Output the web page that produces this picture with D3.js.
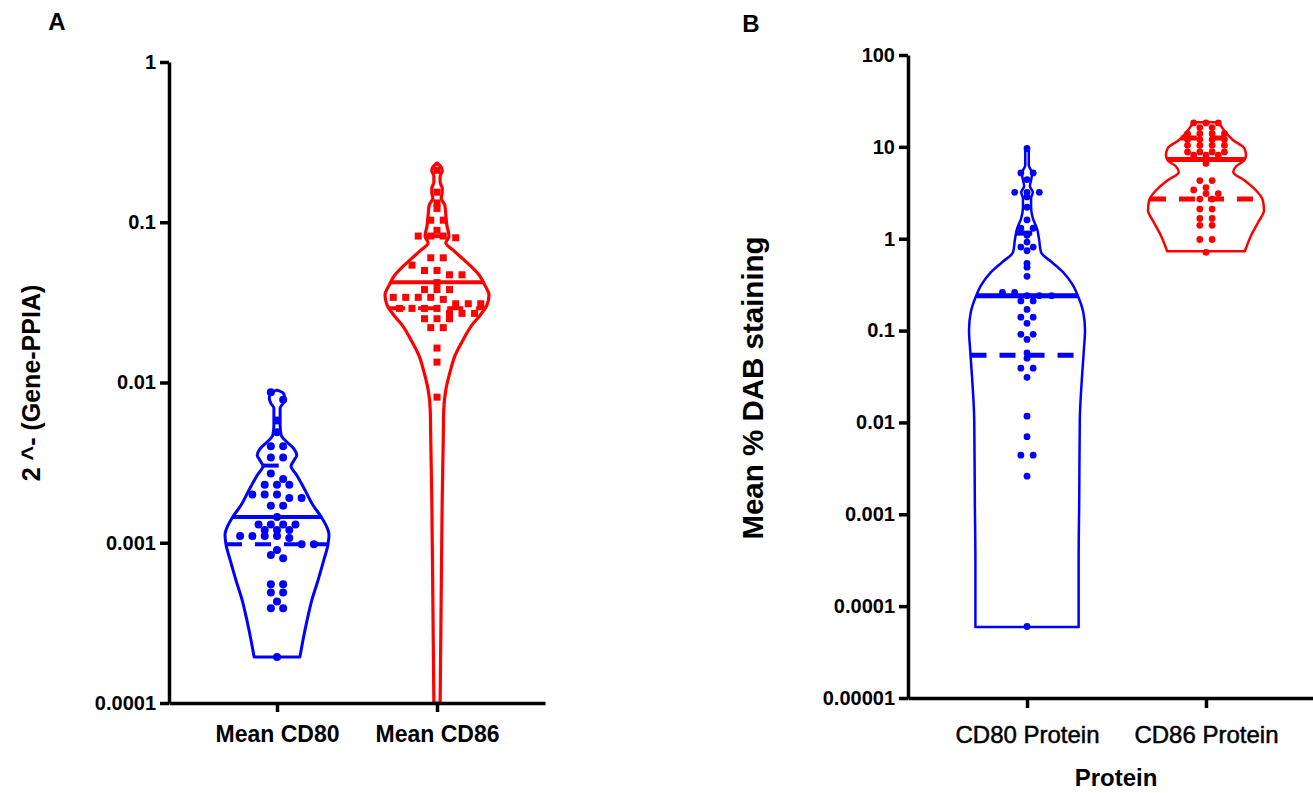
<!DOCTYPE html>
<html>
<head>
<meta charset="utf-8">
<title>CD80 / CD86 violin plots</title>
<script src="https://d3js.org/d3.v7.min.js"></script>
<style>
  body { margin: 0; background: #fff; }
  text { font-family: "Liberation Sans", Arial, sans-serif; font-weight: bold; fill: #000; }
  .axis path, .axis line { stroke: #000; stroke-width: 3.5; }
</style>
</head>
<body>
<svg width="1313" height="793"></svg>

<script>
// ---------- panel A : 2^-(Gene-PPIA) ----------
var geneCats = ['Mean CD80', 'Mean CD86'];
var geneTicks = [0.0001, 0.001, 0.01, 0.1, 1];

var cd80Gene = [0.0087, 0.0078, 0.0058, 0.0049, 0.0040, 0.0040, 0.0034, 0.0034, 0.0027, 0.0025,
  0.0023, 0.0023, 0.0023, 0.0020, 0.0020, 0.0020, 0.0019, 0.0019, 0.0017, 0.0017,
  0.00145, 0.0013, 0.0013, 0.0013, 0.0013, 0.0012, 0.0012, 0.0012, 0.0011, 0.0011,
  0.0011, 0.0011, 0.00107, 0.00098, 0.00098, 0.0009, 0.00084, 0.0008, 0.00055, 0.00055,
  0.00049, 0.00049, 0.00043, 0.00039, 0.00039, 0.000194];
var cd86Gene = [0.211, 0.154, 0.132, 0.122, 0.103, 0.103, 0.089, 0.082, 0.082, 0.082,
  0.080, 0.060, 0.060, 0.054, 0.050, 0.050, 0.047, 0.047, 0.042, 0.038,
  0.038, 0.038, 0.034, 0.034, 0.034, 0.034, 0.033, 0.031, 0.031, 0.031,
  0.029, 0.029, 0.029, 0.029, 0.027, 0.027, 0.027, 0.025, 0.025, 0.025,
  0.022, 0.022, 0.0164, 0.0134, 0.0081];

// [median, lower quartile, upper quartile]
var cd80GeneStats = [0.00145, 0.00098, 0.00303];
var cd86GeneStats = [0.0423, 0.0291, 0.0819];

// violin outline: [value, relative density]
var cd80GeneViolin = [[0.00897, 0], [0.00859, 0.12], [0.00799, 0.15], [0.00744, 0.12], [0.00692, 0.06],
  [0.00626, 0.06], [0.00542, 0.06], [0.0047, 0.08], [0.00425, 0.19], [0.00384, 0.33],
  [0.00352, 0.38], [0.00328, 0.33], [0.00301, 0.27], [0.00264, 0.38], [0.00213, 0.54],
  [0.00172, 0.69], [0.00145, 0.85], [0.00129, 0.94], [0.00112, 1], [0.00097, 0.98],
  [0.00078, 0.9], [0.000585, 0.79], [0.000439, 0.67], [0.00033, 0.58], [0.000247, 0.5],
  [0.000194, 0.44]];
var cd86GeneViolin = [[0.234, 0], [0.221, 0.08], [0.209, 0.1], [0.194, 0.06], [0.178, 0.06],
  [0.163, 0.1], [0.152, 0.1], [0.141, 0.08], [0.128, 0.15], [0.111, 0.17],
  [0.0959, 0.19], [0.0819, 0.23], [0.0741, 0.17], [0.067, 0.31], [0.0597, 0.48],
  [0.0532, 0.65], [0.0468, 0.81], [0.0405, 0.92], [0.0351, 1], [0.0304, 0.96],
  [0.0263, 0.83], [0.0228, 0.67], [0.0184, 0.5], [0.0148, 0.35], [0.0116, 0.25],
  [0.009, 0.17], [0.00673, 0.13], [0.00437, 0.12], [0.00185, 0.1], [0.00044, 0.08],
  [0.0001, 0.06]];

// ---------- panel B : Mean % DAB staining ----------
var proteinCats = ['CD80 Protein', 'CD86 Protein'];
var proteinTicks = [0.00001, 0.0001, 0.001, 0.01, 0.1, 1, 10, 100];

var cd80Protein = [9.6, 5.2, 5.2, 4.4, 3.2, 3.2, 3.2, 2.85, 2.2, 1.6,
  1.3, 1.3, 1.09, 0.92, 0.81, 0.81, 0.74, 0.54, 0.49, 0.39,
  0.26, 0.26, 0.24, 0.24, 0.24, 0.21, 0.21, 0.17, 0.14, 0.14,
  0.12, 0.091, 0.091, 0.08, 0.057, 0.05, 0.039, 0.039, 0.031, 0.0117,
  0.007, 0.0044, 0.0044, 0.0026, 0.00006];
var cd86Protein = [18.2, 18.2, 18.2, 16.2, 16.2, 13.9, 13.9, 13.9, 13.9, 12.0,
  12.0, 12.0, 12.0, 10.4, 10.4, 10.4, 10.4, 8.8, 8.8, 8.8,
  8.8, 8.1, 8.1, 8.1, 6.6, 4.3, 4.3, 3.6, 3.4, 3.1,
  3.1, 2.7, 2.7, 2.1, 2.1, 1.66, 1.66, 1.4, 1.4, 0.98,
  0.98, 0.71];

var cd80ProteinStats = [0.239, 0.054, 1.15];
var cd86ProteinStats = [7.3, 2.7, 12.5];

var cd80ProteinViolin = [[9.9, 0], [8.96, 0.03], [6.31, 0.03], [5.16, 0.09], [4.34, 0.07],
  [3.73, 0.05], [3.21, 0.1], [2.76, 0.07], [2.2, 0.07], [1.67, 0.1],
  [1.3, 0.17], [0.963, 0.21], [0.713, 0.24], [0.555, 0.43], [0.432, 0.62],
  [0.32, 0.78], [0.237, 0.88], [0.158, 0.97], [0.101, 1], [0.0612, 0.98],
  [0.0327, 0.95], [0.0106, 0.91], [0.00143, 0.9], [0.000318, 0.89], [0.0000593, 0.89]];
var cd86ProteinViolin = [[18.5, 0.22], [15.2, 0.31], [11.8, 0.47], [9.66, 0.66], [8.11, 0.69],
  [7.15, 0.66], [6.15, 0.52], [5.29, 0.47], [4.33, 0.66], [3.37, 0.86],
  [2.62, 0.98], [2.04, 1], [1.51, 0.9], [1.09, 0.78], [0.731, 0.67]];

var svg = d3.select('svg');
svg.append('rect').attr('width', 1313).attr('height', 793).attr('fill', '#fff');

// ---------- scales ----------
var yA = d3.scaleLog().domain([0.0001, 1]).range([703, 62]);
var xA = d3.scalePoint().domain(geneCats).range([169, 545]).padding(0.675);
var wA = d3.scaleLinear().domain([0, 1]).range([0, 52]);

var yB = d3.scaleLog().domain([0.00001, 100]).range([698, 55]);
var xB = d3.scalePoint().domain(proteinCats).range([908, 1325]).padding(0.665);
var wB = d3.scaleLinear().domain([0, 1]).range([0, 58]);

// half width at a value, linear in log space between outline points
function halfWidth(profile, v) {
	for (var i = 0; i < profile.length - 1; i++) {
		var a = profile[i], b = profile[i + 1];
		if (v <= a[0] && v >= b[0]) {
			var t = (Math.log(v) - Math.log(a[0])) / (Math.log(b[0]) - Math.log(a[0]));
			return a[1] + t * (b[1] - a[1]);
		}
	}
	return 0;
}

function drawViolin(y, w, cx, profile, stats, color, strokeW, lineW) {
	var g = svg.append('g');
	var area = d3.area()
		.y(function(d) { return y(d[0]); })
		.x0(function(d) { return cx - w(d[1]); })
		.x1(function(d) { return cx + w(d[1]); })
		.curve(d3.curveMonotoneY);

	g.append('path')
		.datum(profile)
		.attr('d', area)
		.attr('fill', 'none')
		.attr('stroke', color)
		.attr('stroke-width', strokeW)
		.attr('stroke-linejoin', 'round');

	stats.forEach(function(v, i) {
		var hw = w(halfWidth(profile, v));
		g.append('line')
			.attr('x1', cx - hw)
			.attr('x2', cx + hw)
			.attr('y1', y(v))
			.attr('y2', y(v))
			.attr('stroke', color)
			.attr('stroke-width', lineW)
			.attr('stroke-dasharray', i === 0 ? null : '16,13');
	});
}

// column scatter: points falling in the same pixel row are spread sideways
function swarm(values, y, cx, rowH, step) {
	var rows = d3.group(values, function(v) { return Math.round(y(v) / rowH); });
	var nodes = [];
	rows.forEach(function(list) {
		list.forEach(function(v, i) {
			nodes.push({value: v, x: cx + (i - (list.length - 1) / 2) * step, y: y(v)});
		});
	});
	return nodes;
}

function drawDots(values, y, cx, color, r, rowH) {
	svg.append('g')
		.selectAll('circle')
		.data(swarm(values, y, cx, rowH, 12.3))
		.enter()
		.append('circle')
		.attr('cx', function(d) { return d.x; })
		.attr('cy', function(d) { return d.y; })
		.attr('r', r)
		.attr('fill', color);
}

function drawSquares(values, y, cx, color, s, rowH) {
	svg.append('g')
		.selectAll('rect')
		.data(swarm(values, y, cx, rowH, 12.5))
		.enter()
		.append('rect')
		.attr('x', function(d) { return d.x - s / 2; })
		.attr('y', function(d) { return d.y - s / 2; })
		.attr('width', s)
		.attr('height', s)
		.attr('fill', color);
}

// ---------- panel A ----------
drawViolin(yA, wA, xA('Mean CD80'), cd80GeneViolin, cd80GeneStats, '#0000ff', 3, 4);
drawViolin(yA, wA, xA('Mean CD86'), cd86GeneViolin, cd86GeneStats, '#ff0000', 3.2, 4);
drawDots(cd80Gene, yA, xA('Mean CD80'), '#0000ff', 4, 9);
drawSquares(cd86Gene, yA, xA('Mean CD86'), '#ff0000', 7, 10);

var axisA = svg.append('g')
	.attr('class', 'axis')
	.attr('transform', 'translate(169,0)')
	.call(d3.axisLeft(yA).tickValues(geneTicks).tickFormat(String).tickSize(9).tickSizeOuter(0).tickPadding(4));
var xAxisA = svg.append('g')
	.attr('class', 'axis')
	.attr('transform', 'translate(0,703)')
	.call(d3.axisBottom(xA).tickSize(9).tickSizeOuter(0).tickPadding(14));

// ---------- panel B ----------
drawViolin(yB, wB, xB('CD80 Protein'), cd80ProteinViolin, cd80ProteinStats, '#0000ff', 2.5, 5);
drawViolin(yB, wB, xB('CD86 Protein'), cd86ProteinViolin, cd86ProteinStats, '#ff0000', 2.5, 5);
drawDots(cd80Protein, yB, xB('CD80 Protein'), '#0000ff', 3.4, 6);
drawDots(cd86Protein, yB, xB('CD86 Protein'), '#ff0000', 3.4, 6);

var axisB = svg.append('g')
	.attr('class', 'axis')
	.attr('transform', 'translate(908,0)')
	.call(d3.axisLeft(yB).tickValues(proteinTicks).tickFormat(String).tickSize(9).tickSizeOuter(0).tickPadding(4));
var xAxisB = svg.append('g')
	.attr('class', 'axis')
	.attr('transform', 'translate(0,698)')
	.call(d3.axisBottom(xB).tickSize(10).tickSizeOuter(0).tickPadding(18));

svg.selectAll('.axis text').attr('font-size', 20);
xAxisB.selectAll('text').attr('font-size', 24).style('font-weight', 'normal').attr('stroke', '#000').attr('stroke-width', 0.5);
xAxisA.selectAll('text').attr('font-size', 23);

// ---------- titles ----------
svg.append('text').attr('x', 57).attr('y', 30).attr('text-anchor', 'middle').attr('font-size', 24).text('A');
svg.append('text').attr('x', 751).attr('y', 32).attr('text-anchor', 'middle').attr('font-size', 24).text('B');

svg.append('text')
	.attr('transform', 'translate(40,383) rotate(-90)')
	.attr('text-anchor', 'middle')
	.attr('font-size', 25)
	.text('2 ^- (Gene-PPIA)');
svg.append('text')
	.attr('transform', 'translate(763,388) rotate(-90)')
	.attr('text-anchor', 'middle')
	.attr('font-size', 29.5)
	.text('Mean % DAB staining');
svg.append('text')
	.attr('x', 1116)
	.attr('y', 786)
	.attr('text-anchor', 'middle')
	.attr('font-size', 24)
	.text('Protein');
</script>
</body>
</html>
